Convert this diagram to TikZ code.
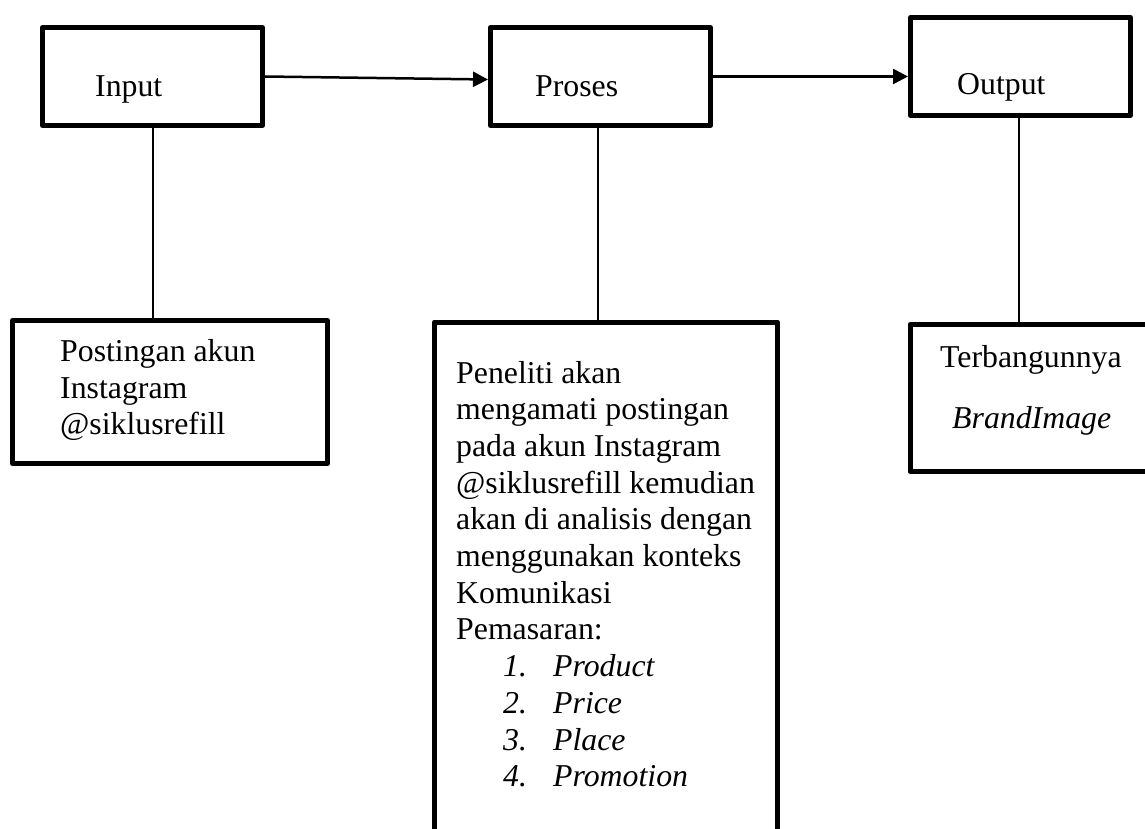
\documentclass[tikz,border=0pt]{standalone}
\usepackage{fontspec}
\setmainfont{Liberation Serif}
\usetikzlibrary{arrows.meta}
\begin{document}
\begin{tikzpicture}[x=1pt,y=-1pt,
  box/.style={draw=black,line width=5pt,rectangle,inner sep=0pt,line join=round},
  txt/.style={anchor=base west,inner sep=0pt,font=\fontsize{31.8}{36.7}\selectfont},
  conn/.style={draw=black,line width=2pt},
  arr/.style={draw=black,line width=2.5pt,-{Triangle[length=15pt,width=15pt]}}]
\useasboundingbox (0,0) rectangle (1145,829);
\clip (0,0) rectangle (1145,829);
\fill[white] (0,0) rectangle (1145,829);
% top boxes
\node[box,minimum width=220pt,minimum height=98pt] (inbox) at (152.5,76.5) {};
\node[box,minimum width=220pt,minimum height=98pt] (prbox) at (600.5,76.5) {};
\node[box,minimum width=220pt,minimum height=98pt] (outbox) at (1020.5,66.5) {};
% bottom boxes
\node[box,minimum width=315pt,minimum height=143pt] (postbox) at (170,392) {};
\node[box,minimum width=343pt,minimum height=540pt] (anbox) at (606,592) {};
\node[box,minimum width=250pt,minimum height=147pt] (brbox) at (1035,398) {};
% texts
\node[txt] (tin) at (95,97) {Input};
\node[txt] (tpr) at (535,97) {Proses};
\node[txt] (tout) at (957,95) {Output};
\node[txt] (p1) at (60,361) {Postingan akun};
\node[txt] (p2) at (60,398) {Instagram};
\node[txt] (p3) at (60,434) {@siklusrefill};
\node[txt] (a1) at (456,383) {Peneliti akan};
\node[txt] (a2) at (456,419.7) {mengamati postingan};
\node[txt] (a3) at (456,456.4) {pada akun Instagram};
\node[txt] (a4) at (456,493.1) {@siklusrefill kemudian};
\node[txt] (a5) at (456,529.8) {akan di analisis dengan};
\node[txt] (a6) at (456,566.5) {menggunakan konteks};
\node[txt] (a7) at (456,603.2) {Komunikasi};
\node[txt] (a8) at (456,639.9) {Pemasaran:};
\node[txt] (n1) at (503,676.6) {\itshape 1.};
\node[txt] (l1) at (553,676.6) {\itshape Product};
\node[txt] (n2) at (503,713.3) {\itshape 2.};
\node[txt] (l2) at (553,713.3) {\itshape Price};
\node[txt] (n3) at (503,750) {\itshape 3.};
\node[txt] (l3) at (553,750) {\itshape Place};
\node[txt] (n4) at (503,786.7) {\itshape 4.};
\node[txt] (l4) at (553,786.7) {\itshape Promotion};
\node[txt] (b1) at (940,367) {Terbangunnya};
\node[txt] (b2) at (952,428) {\itshape BrandImage};
% connectors
\path[arr] (inbox.east) -- ([yshift=-3pt]prbox.west);
\path[arr] (prbox.east) -- (prbox.east -| outbox.west);
\path[conn] (inbox.south) -- (inbox.south |- postbox.north);
\path[conn] ([xshift=-3pt]prbox.south) -- ([xshift=-3pt]prbox.south |- anbox.north);
\path[conn] ([xshift=-2pt]outbox.south) -- ([xshift=-2pt]outbox.south |- brbox.north);
\end{tikzpicture}
\end{document}
